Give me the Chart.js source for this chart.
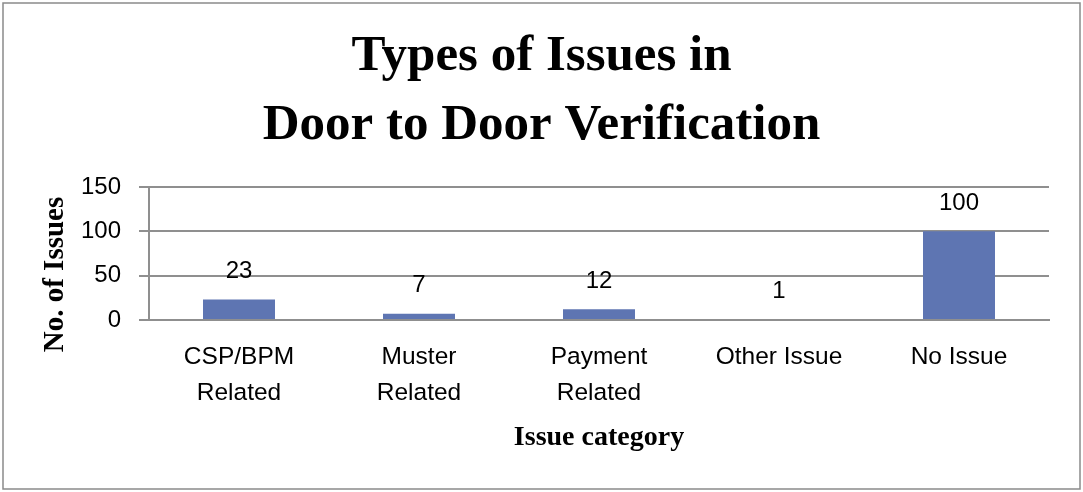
<!DOCTYPE html>
<html>
<head>
<meta charset="utf-8">
<script src="https://cdn.jsdelivr.net/npm/chart.js@4.4.1/dist/chart.umd.min.js"></script>
<style>
  html, body { margin: 0; padding: 0; background: #fff; }
  #wrap { width: 1083px; height: 492px; position: relative; }
</style>
</head>
<body>
<div id="wrap"><canvas id="c" width="1083" height="492"></canvas></div>
<script>
const categories = [["CSP/BPM", "Related"], ["Muster", "Related"], ["Payment", "Related"], "Other Issue", "No Issue"];
const issueCounts = [23, 7, 12, 1, 100];
const yTicks = [0, 50, 100, 150];
const chartTitle = ["Types of Issues in", "Door to Door Verification"];
const xAxisTitle = "Issue category";
const yAxisTitle = "No. of Issues";

const gridColor = '#8f8f8f';

const frame = {
  id: 'frame',
  beforeDraw(chart) {
    const ctx = chart.ctx;
    ctx.save();
    ctx.fillStyle = '#fff';
    ctx.fillRect(0, 0, chart.width, chart.height);
    ctx.strokeStyle = '#8a8a8a';
    ctx.lineWidth = 1.5;
    ctx.strokeRect(3, 3, chart.width - 6, chart.height - 6);
    ctx.restore();
  }
};

const labelsPlugin = {
  id: 'valueLabels',
  afterDatasetsDraw(chart) {
    const ctx = chart.ctx;
    const meta = chart.getDatasetMeta(0);
    ctx.save();
    ctx.font = '24px "Liberation Sans", Arial, sans-serif';
    ctx.fillStyle = '#000';
    ctx.textAlign = 'center';
    ctx.textBaseline = 'middle';
    meta.data.forEach((bar, i) => {
      ctx.fillText(String(issueCounts[i]), bar.x, bar.y - 28);
    });
    ctx.restore();
  }
};

const yTitlePlugin = {
  id: 'yTitle',
  afterDraw(chart) {
    const ctx = chart.ctx;
    const ys = chart.scales.y;
    ctx.save();
    ctx.font = 'bold 29px "Liberation Serif", "Times New Roman", serif';
    ctx.fillStyle = '#000';
    ctx.textAlign = 'center';
    ctx.textBaseline = 'middle';
    ctx.translate(56, (ys.top + ys.bottom) / 2 + 21);
    ctx.rotate(-Math.PI / 2);
    ctx.fillText(yAxisTitle, 0, 0);
    ctx.restore();
  }
};

new Chart(document.getElementById('c'), {
  type: 'bar',
  data: {
    labels: categories,
    datasets: [{
      data: issueCounts,
      backgroundColor: '#5e75b2',
      borderWidth: 0,
      categoryPercentage: 1,
      barPercentage: 0.4,
      yAxisID: 'y'
    }]
  },
  options: {
    responsive: false,
    animation: false,
    devicePixelRatio: 1,
    layout: { padding: 0 },
    plugins: {
      legend: { display: false },
      tooltip: { enabled: false },
      title: {
        display: true,
        text: chartTitle,
        color: '#000',
        font: { family: '"Liberation Serif", "Times New Roman", serif', size: 51, weight: 'bold', lineHeight: 1.353 },
        padding: { top: 22, bottom: 27 }
      }
    },
    scales: {
      x: {
        grid: { display: false, drawTicks: false },
        border: { display: true, color: gridColor, width: 2 },
        ticks: {
          color: '#000',
          padding: 19,
          maxRotation: 0,
          autoSkip: false,
          font: { family: '"Liberation Sans", Arial, sans-serif', size: 24.5, lineHeight: 1.47 }
        },
        title: {
          display: true,
          text: xAxisTitle,
          color: '#000',
          font: { family: '"Liberation Serif", "Times New Roman", serif', size: 28, weight: 'bold', lineHeight: 1.2 },
          padding: { top: 0, bottom: 37 }
        },
        afterFit(scale) { scale.height = 172; }
      },
      y: {
        min: 0,
        max: 150,
        afterBuildTicks(scale) { scale.ticks = yTicks.map(v => ({ value: v })); },
        grid: { color: gridColor, lineWidth: 2, tickLength: 10, drawTicks: true },
        border: { display: true, color: gridColor, width: 2 },
        ticks: {
          color: '#000',
          padding: 18,
          font: { family: '"Liberation Sans", Arial, sans-serif', size: 24 }
        },
        afterFit(scale) { scale.width = 149; }
      },
      yRight: {
        position: 'right',
        min: 0,
        max: 150,
        grid: { display: false, drawTicks: false },
        border: { display: false },
        ticks: { display: false },
        afterFit(scale) { scale.width = 34; }
      }
    }
  },
  plugins: [frame, labelsPlugin, yTitlePlugin]
});
</script>
</body>
</html>
